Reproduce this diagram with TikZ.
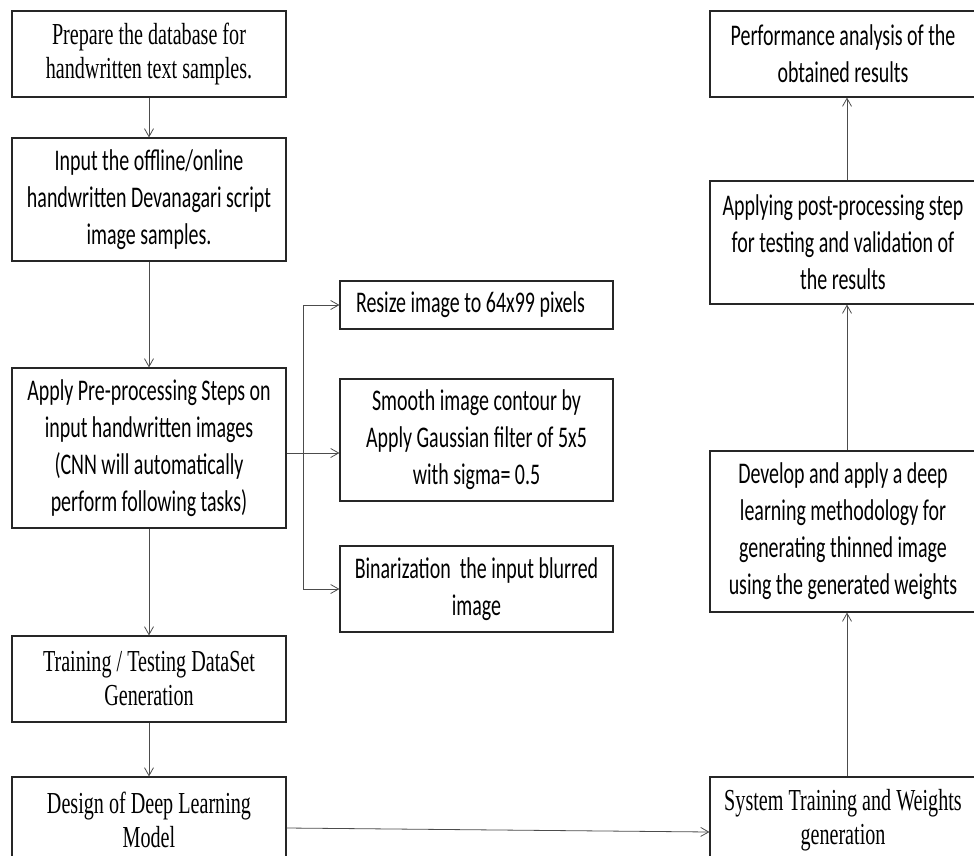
\documentclass[tikz,border=0pt]{standalone}
\usepackage{fontspec}
\setmainfont{Liberation Serif}[FakeStretch=0.66]
\newfontfamily\calib{Carlito}[FakeStretch=0.665]
\usetikzlibrary{arrows.meta}
\tikzset{
  box/.style={draw=black!85, line width=1.1pt, inner sep=0pt, align=center, text=black},
  serifbox/.style={box, font=\fontsize{30.5}{34}\selectfont},
  sansbox/.style={box, font=\calib\fontsize{30}{37}\selectfont},
  arr/.style={draw=black!70, line width=0.8pt, -{Straight Barb[length=8pt,width=9pt]}},
  ln/.style={draw=black!70, line width=0.8pt}
}
\begin{document}
\begin{tikzpicture}[x=1pt,y=-1pt]
\useasboundingbox (0,0) rectangle (974,856);
\clip (0,0) rectangle (974,856);
% left column
\node[serifbox, minimum width=274, minimum height=86] (prep) at (149,54) {Prepare the database for\\handwritten text samples.};
\node[sansbox, minimum width=274, minimum height=123] (input) at (149,199.5) {Input the offline/online\\handwritten Devanagari script\\image samples.};
\node[sansbox, minimum width=274, minimum height=160] (pre) at (149,448) {Apply Pre-processing Steps on\\input handwritten images\\(CNN will automatically\\perform following tasks)};
\node[serifbox, minimum width=274, minimum height=86] (train) at (149,679) {Training / Testing DataSet\\Generation};
\node[serifbox, minimum width=274, minimum height=86] (design) at (149,820) {Design of Deep Learning\\Model};
% middle column
\node[sansbox, minimum width=273, minimum height=48] (resize) at (476.5,305) {Resize image to 64x99 pixels\hspace*{12pt}};
\node[sansbox, minimum width=273, minimum height=122] (smooth) at (476.5,440) {Smooth image contour by\\Apply Gaussian filter of 5x5\\with sigma= 0.5};
\node[sansbox, minimum width=273, minimum height=86] (binar) at (476.5,589) {Binarization~ the input blurred\\image};
% right column
\node[sansbox, minimum width=266, minimum height=86] (perf) at (843,54) {Performance analysis of the\\obtained results};
\node[sansbox, minimum width=266, minimum height=123] (post) at (843,242.5) {Applying post-processing step\\for testing and validation of\\the results};
\node[sansbox, minimum width=266, minimum height=161] (develop) at (843,531.5) {Develop and apply a deep\\learning methodology for\\generating thinned image\\using the generated weights};
\node[serifbox, minimum width=266, minimum height=86] (system) at (843,820) {System Training and Weights\\generation};
% connectors
\draw[arr] (prep) -- (input);
\draw[arr] (input) -- (pre);
\draw[arr] (pre) -- (train);
\draw[arr] (train) -- (design);
\coordinate (j) at (303,453);
\draw[ln] (j -| pre.east) -- (j);
\draw[arr] (j) -- (j -| smooth.west);
\draw[arr] (j) |- (resize.west);
\draw[arr] (j) |- (binar.west);
\draw[arr] ([yshift=-8pt]design.east) -- ([yshift=-12pt]system.west);
\draw[arr] ([xshift=4pt]system.north) -- ([xshift=4pt]develop.south);
\draw[arr] ([xshift=4pt]develop.north) -- ([xshift=4pt]post.south);
\draw[arr] ([xshift=4pt]post.north) -- ([xshift=4pt]perf.south);
\end{tikzpicture}
\end{document}
